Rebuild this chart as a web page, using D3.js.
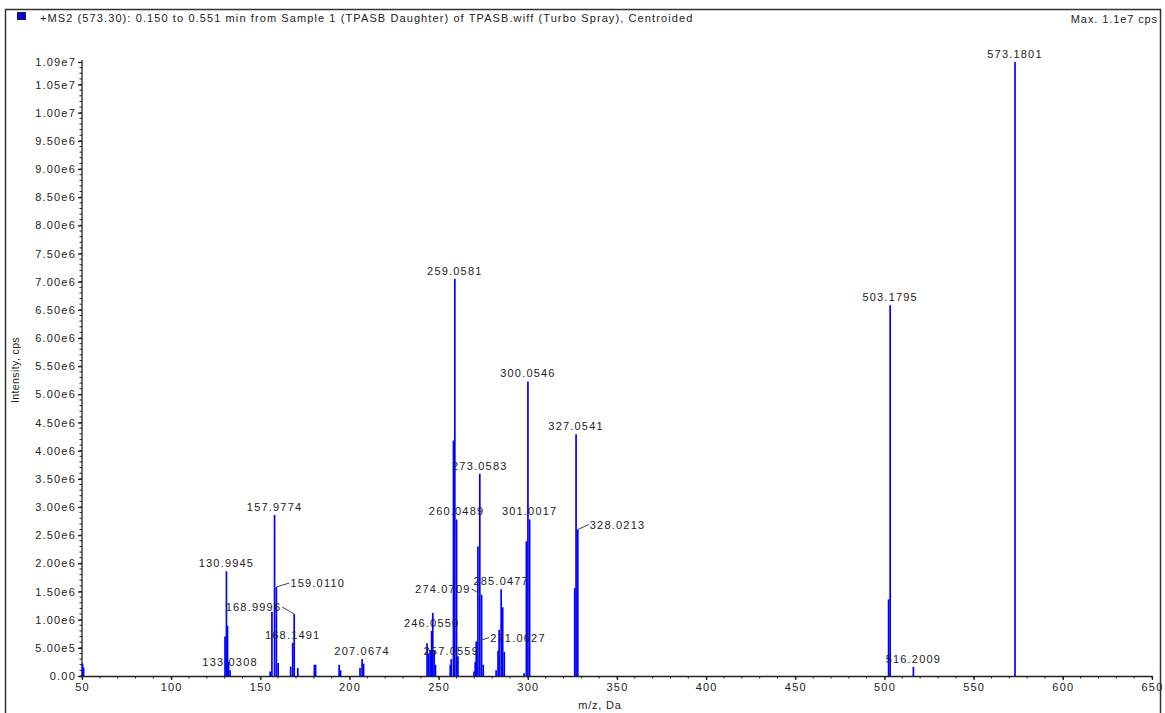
<!DOCTYPE html>
<html>
<head>
<meta charset="utf-8">
<script src="https://cdn.jsdelivr.net/npm/d3@7"></script>
<style>
  body { margin: 0; background: #fff; }
  text { font-family: "Liberation Sans", Arial, sans-serif; fill: #222; }
</style>
</head>
<body>
<div id="chart"></div>
<script>
// peak list (m/z, intensity in cps)
var mzValues = [50.3, 50.9, 130.2, 130.9945, 131.6, 132.2, 133.0308,
                155.5, 156.5, 157.9774, 159.0110, 160.0, 167.0, 168.1491, 168.9996, 171.0,
                180.3, 181.0, 194.2, 195.0, 205.9, 207.0674, 207.9,
                243.5, 244.3, 245.2, 246.0550, 246.7, 247.5, 248.2,
                256.5, 257.0559, 258.3, 259.0581, 260.0489, 260.8,
                269.8, 270.5, 271.0627, 272.0, 273.0583, 274.0709, 275.0,
                282.2, 283.3, 283.9, 285.0477, 285.9, 286.8,
                297.9, 299.2, 300.0546, 301.0017,
                326.3, 327.0541, 328.0213,
                502.3, 503.1795, 516.2009, 573.1801];
var intensities = [2.2e5, 1.5e5, 7.0e5, 1.86e6, 8.9e5, 2.5e5, 1.0e5,
                   8e4, 1.14e6, 2.86e6, 1.58e6, 2.3e5, 1.7e5, 5.9e5, 1.10e6, 1.4e5,
                   2.0e5, 2.0e5, 2.0e5, 1.0e5, 1.4e5, 3.0e5, 2.2e5,
                   5.8e5, 4.0e5, 4.6e5, 8.0e5, 1.12e6, 4.5e5, 2.0e5,
                   2.0e5, 3.0e5, 4.18e6, 7.05e6, 2.78e6, 3.5e5,
                   8e4, 2.5e5, 6.1e5, 2.30e6, 3.59e6, 1.44e6, 2.0e5,
                   1.0e5, 4.5e5, 8.2e5, 1.54e6, 1.22e6, 4.3e5,
                   5e4, 2.39e6, 5.23e6, 2.78e6,
                   1.56e6, 4.29e6, 2.60e6,
                   1.36e6, 6.58e6, 1.6e5, 1.09e7];

// annotated peaks
var labelled = [130.9945, 133.0308, 157.9774, 159.0110, 168.1491, 168.9996, 207.0674,
                246.0550, 257.0559, 259.0581, 260.0489, 271.0627, 273.0583, 274.0709,
                285.0477, 300.0546, 301.0017, 327.0541, 328.0213, 503.1795, 516.2009, 573.1801];

var xTicks = [50, 100, 150, 200, 250, 300, 350, 400, 450, 500, 550, 600, 650];
var yTicks = [0, 5e5, 1e6, 1.5e6, 2e6, 2.5e6, 3e6, 3.5e6, 4e6, 4.5e6, 5e6, 5.5e6, 6e6,
              6.5e6, 7e6, 7.5e6, 8e6, 8.5e6, 9e6, 9.5e6, 1e7, 1.05e7, 1.09e7];

var title = "+MS2 (573.30): 0.150 to 0.551 min from Sample 1 (TPASB Daughter) of TPASB.wiff (Turbo Spray), Centroided";

// labels pushed aside with a leader line
var offsets = {
    "159.0110": {dx: 14, dy: 0, anchor: "start"},
    "168.9996": {dx: -13, dy: -3, anchor: "end"},
    "274.0709": {dx: -11, dy: -2, anchor: "end"},
    "271.0627": {dx: 14, dy: 0, anchor: "start"},
    "328.0213": {dx: 12, dy: -1, anchor: "start"}
};

var width = 1165, height = 713;
var svg = d3.select("#chart").append("svg")
            .attr("width", width)
            .attr("height", height);

var x = d3.scaleLinear().domain([50, 650]).range([82, 1152]);
var y = d3.scaleLinear().domain([0, 1.09e7]).range([676, 62]);

// outer frame
svg.append("rect")
    .attr("x", 5.5).attr("y", 9.5)
    .attr("width", 1155).attr("height", 712)
    .attr("fill", "none").attr("stroke", "#333").attr("stroke-width", 1.5);

svg.append("rect")
    .attr("x", 17.5).attr("y", 12.5).attr("width", 8).attr("height", 7)
    .attr("fill", "#0000ff").attr("stroke", "#223");

svg.append("text")
    .attr("x", 40).attr("y", 22)
    .style("font-size", "11px").style("letter-spacing", "1.1px")
    .text(title);

svg.append("text")
    .attr("x", 1158).attr("y", 23)
    .attr("text-anchor", "end")
    .style("font-size", "11px").style("letter-spacing", "0.9px")
    .text("Max. 1.1e7 cps");

// minor ticks
var g = svg.append("g");
g.selectAll(".xminor")
    .data(d3.range(50, 651, 10))
    .enter().append("line")
    .attr("x1", d => x(d)).attr("x2", d => x(d))
    .attr("y1", 676).attr("y2", 678.5)
    .attr("stroke", "#222");
g.selectAll(".yminor")
    .data(d3.range(0, 1.09e7, 1e5))
    .enter().append("line")
    .attr("x1", 82).attr("x2", 79.5)
    .attr("y1", d => y(d)).attr("y2", d => y(d))
    .attr("stroke", "#222");

var xAxis = svg.append("g")
    .attr("transform", "translate(0,676)")
    .call(d3.axisBottom(x).tickValues(xTicks).tickSize(4).tickSizeOuter(0).tickPadding(3));

var fmt = d3.format(".2e");
var yAxis = svg.append("g")
    .attr("transform", "translate(82,0)")
    .call(d3.axisLeft(y).tickValues(yTicks).tickSize(4).tickSizeOuter(0).tickPadding(2)
        .tickFormat(d => d === 0 ? "0.00" : fmt(d).replace("+", "")));

svg.selectAll(".tick text")
    .style("font-size", "11px").style("letter-spacing", "1.2px")
    .style("font-family", "'Liberation Sans', Arial, sans-serif")
    .attr("fill", "#222");
svg.selectAll(".domain, .tick line").attr("stroke", "#222").attr("stroke-width", 1.3);
yAxis.select(".domain").attr("d", "M0,60V676");

svg.append("text")
    .attr("x", 600).attr("y", 709)
    .attr("text-anchor", "middle")
    .style("font-size", "11px").style("letter-spacing", "0.8px")
    .text("m/z, Da");

svg.append("text")
    .attr("transform", "translate(19,370) rotate(-90)")
    .attr("text-anchor", "middle")
    .style("font-size", "10.5px").style("letter-spacing", "0.4px")
    .text("Intensity, cps");

// peaks
var peaks = mzValues.map((m, i) => ({mz: m, value: intensities[i]}));

svg.append("g").selectAll("line")
    .data(peaks)
    .enter().append("line")
    .attr("x1", d => x(d.mz)).attr("x2", d => x(d.mz))
    .attr("y1", y(0)).attr("y2", d => y(d.value))
    .attr("stroke", "#0000ff")
    .attr("stroke-width", 1.7);

var lab = peaks.filter(d => labelled.indexOf(d.mz) >= 0);

var labels = svg.append("g").selectAll("g")
    .data(lab)
    .enter().append("g");

labels.filter(d => offsets[d.mz.toFixed(4)])
    .append("line")
    .attr("x1", d => x(d.mz)).attr("y1", d => y(d.value))
    .attr("x2", d => { var o = offsets[d.mz.toFixed(4)]; return x(d.mz) + o.dx + (o.dx > 0 ? -1 : 1); })
    .attr("y2", d => y(d.value) + offsets[d.mz.toFixed(4)].dy - 4)
    .attr("stroke", "#444").attr("stroke-width", 1);

labels.append("text")
    .attr("x", d => { var o = offsets[d.mz.toFixed(4)]; return x(d.mz) + (o ? o.dx : 0); })
    .attr("y", d => { var o = offsets[d.mz.toFixed(4)]; return y(d.value) + (o ? o.dy : -4); })
    .attr("text-anchor", d => { var o = offsets[d.mz.toFixed(4)]; return o ? o.anchor : "middle"; })
    .style("font-size", "11px").style("letter-spacing", "1.2px")
    .text(d => d.mz.toFixed(4));
</script>
</body>
</html>
